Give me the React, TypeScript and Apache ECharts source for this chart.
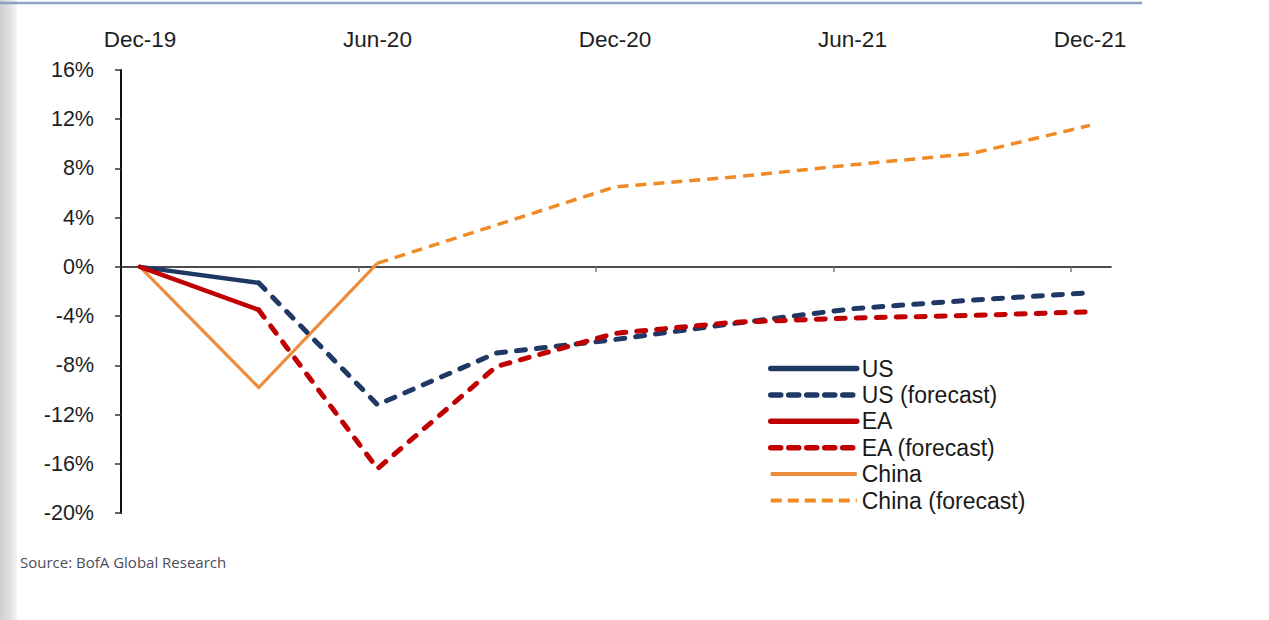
import React, { useEffect, useRef } from "react";
import * as echarts from "echarts";

// Quarters on the x axis (index = position)
const quarters = ["Dec-19", "Mar-20", "Jun-20", "Sep-20", "Dec-20", "Mar-21", "Jun-21", "Sep-21", "Dec-21"];
// Top axis labels (quarter indices 0,2,4,6,8)
const topLabels = ["Dec-19", "Jun-20", "Dec-20", "Jun-21", "Dec-21"];
const topLabelIdx = [0, 2, 4, 6, 8];
// Minor tick positions (in quarter units) on the zero line
const xTickPos = [1.84, 3.84, 5.84, 7.84];

// Values, % change
const usActual = [0, -1.3]; // Dec-19 .. Mar-20
const usForecast = [-1.3, -11.2, -7.0, -5.9, -4.6, -3.4, -2.7, -2.1]; // Mar-20 .. Dec-21
const eaActual = [0, -3.5];
const eaForecast = [-3.5, -16.4, -8.1, -5.4, -4.5, -4.15, -3.95, -3.65];
const chinaActual = [0, -9.8, 0.3]; // Dec-19 .. Jun-20
const chinaForecast = [0.3, 3.4, 6.5, 7.3, 8.3, 9.2, 11.5]; // Jun-20 .. Dec-21

const usForecastStart = 1;
const eaForecastStart = 1;
const chinaForecastStart = 2;

const FONT = "'Liberation Sans', Arial, Helvetica, sans-serif";

const pairs = (arr: number[], start: number) => arr.map((v, i) => [start + i, v]);

export default function App() {
  const ref = useRef<HTMLDivElement>(null);
  useEffect(() => {
    if (!ref.current) return;
    const chart = echarts.init(ref.current, undefined, { renderer: "svg" });
    const navy = "#1f3864";
    const red = "#c00000";
    const orange = "#ec8c3c";
    const orangeF = "#f08a24";
    const dashUE = [9, 11];
    const dashCN = [11, 7];
    chart.setOption({
      animation: false,
      backgroundColor: "#ffffff",
      grid: { left: 121, right: 158, top: 70, bottom: 107, containLabel: false },
      xAxis: [
        {
          type: "value",
          min: -0.16,
          max: 8.177,
          position: "bottom",
          axisLine: { show: true, onZero: true, lineStyle: { color: "#111", width: 1.6 } },
          axisTick: { show: true, customValues: xTickPos, length: 5, lineStyle: { color: "#777", width: 1.5 } },
          axisLabel: { show: false },
          splitLine: { show: false },
        },
        {
          type: "value",
          min: -0.16,
          max: 8.177,
          position: "top",
          axisLine: { show: false },
          axisTick: { show: false },
          splitLine: { show: false },
          axisLabel: {
            show: true,
            customValues: topLabelIdx,
            margin: 19,
            fontFamily: FONT,
            fontSize: 22.5,
            color: "#1e1e1e",
            formatter: (v: number) => {
              const k = topLabelIdx.indexOf(Math.round(v));
              return k >= 0 ? topLabels[k] : quarters[Math.round(v)] || "";
            },
          },
        },
      ],
      yAxis: {
        type: "value",
        min: -20,
        max: 16,
        interval: 4,
        axisLine: { show: true, onZero: false, lineStyle: { color: "#111", width: 2 } },
        axisTick: { show: true, length: 6, lineStyle: { color: "#333", width: 1.5 } },
        splitLine: { show: false },
        axisLabel: {
          margin: 27,
          fontFamily: FONT,
          fontSize: 21.5,
          color: "#1e1e1e",
          formatter: "{value}%",
        },
      },
      legend: {
        orient: "vertical",
        left: 768,
        top: 357,
        padding: 0,
        itemWidth: 86,
        itemHeight: 14,
        itemGap: 3.4,
        itemStyle: { opacity: 0, borderWidth: 0 },
        textStyle: { fontFamily: FONT, fontSize: 23, color: "#1a1a1a", lineHeight: 23 },
        data: [
          { name: "US", lineStyle: { width: 5.5, color: navy, type: "solid", cap: "round" } },
          { name: "US (forecast)", lineStyle: { width: 5.5, color: navy, type: [10, 8], cap: "round" } },
          { name: "EA", lineStyle: { width: 5.5, color: red, type: "solid", cap: "round" } },
          { name: "EA (forecast)", lineStyle: { width: 5.5, color: red, type: [10, 8], cap: "round" } },
          { name: "China", lineStyle: { width: 4, color: orange, type: "solid" } },
          { name: "China (forecast)", lineStyle: { width: 4, color: orangeF, type: [11, 6] } },
        ],
      },
      graphic: [
        {
          type: "rect",
          left: 0,
          top: 0,
          shape: { width: 17, height: 620 },
          style: {
            fill: new echarts.graphic.LinearGradient(0, 0, 1, 0, [
              { offset: 0, color: "#cfcfcf" },
              { offset: 0.6, color: "#e2e2e2" },
              { offset: 1, color: "#f4f4f4" },
            ]),
          },
          silent: true,
        },
        {
          type: "line",
          shape: { x1: 0, y1: 3, x2: 1142, y2: 3 },
          style: { stroke: "#8ea3c3", lineWidth: 2.5 },
          silent: true,
        },
        {
          type: "text",
          left: 20,
          top: 554,
          style: {
            text: "Source: BofA Global Research",
            fontFamily: "'Open Sans', 'Noto Sans', sans-serif",
            fontSize: 15,
            fill: "#4a4d5a",
          },
          silent: true,
        },
      ],
      series: [
        {
          name: "US",
          type: "line",
          symbol: "none",
          data: pairs(usActual, 0),
          lineStyle: { color: navy, width: 4.5, cap: "round", join: "round" },
          itemStyle: { color: navy },
          z: 5,
        },
        {
          name: "US (forecast)",
          type: "line",
          symbol: "none",
          data: pairs(usForecast, usForecastStart),
          lineStyle: { color: navy, width: 5, type: dashUE, cap: "round", join: "round" },
          itemStyle: { color: navy },
          z: 4,
        },
        {
          name: "EA",
          type: "line",
          symbol: "none",
          data: pairs(eaActual, 0),
          lineStyle: { color: red, width: 4.5, cap: "round", join: "round" },
          itemStyle: { color: red },
          z: 5,
        },
        {
          name: "EA (forecast)",
          type: "line",
          symbol: "none",
          data: pairs(eaForecast, eaForecastStart),
          lineStyle: { color: red, width: 5, type: dashUE, cap: "round", join: "round" },
          itemStyle: { color: red },
          z: 4,
        },
        {
          name: "China",
          type: "line",
          symbol: "none",
          data: pairs(chinaActual, 0),
          lineStyle: { color: orange, width: 3.2, join: "miter" },
          itemStyle: { color: orange },
          z: 3,
        },
        {
          name: "China (forecast)",
          type: "line",
          symbol: "none",
          data: pairs(chinaForecast, chinaForecastStart),
          lineStyle: { color: orangeF, width: 3.5, type: dashCN },
          itemStyle: { color: orangeF },
          z: 3,
        },
      ],
    });
    return () => chart.dispose();
  }, []);
  return (
    <div
      ref={ref}
      style={{ position: "fixed", left: 0, top: 0, width: 1269, height: 620, background: "#fff" }}
    />
  );
}
